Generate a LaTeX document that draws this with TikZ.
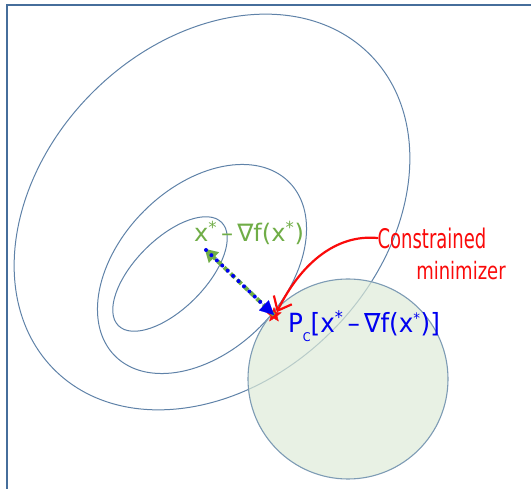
\documentclass[tikz,border=0pt]{standalone}
\usepackage{fontspec}
\setmainfont{DejaVu Sans}
\newfontfamily\condfont{DejaVu Sans Condensed}
\usetikzlibrary{arrows.meta,shapes.geometric,calc}
\definecolor{framecol}{RGB}{70,110,155}
\definecolor{ellcol}{RGB}{95,130,168}
\definecolor{circcol}{RGB}{125,155,180}
\definecolor{circfill}{RGB}{222,235,216}
\definecolor{gcol}{RGB}{112,173,71}
\definecolor{bcol}{RGB}{0,0,240}
\definecolor{rcol}{RGB}{250,10,10}
\tikzset{
  contour/.style={draw=ellcol, line width=1pt},
  lbl/.style={inner sep=0pt, anchor=center},
}
\newcommand{\bigstar}{\textsuperscript{\Large *}}
\begin{document}
\begin{tikzpicture}[x=1pt,y=-1pt]
\useasboundingbox (0,0) rectangle (531,489);
% frame
\draw[framecol, line width=1.2pt] (531,5) -- (7,5) -- (7,489);
% contours
\draw[contour, rotate around={45:(212,212)}] (212,212) ellipse [x radius=223pt, y radius=169pt];
\draw[contour, rotate around={45:(202,269)}] (202,269) ellipse [x radius=123pt, y radius=82pt];
\draw[contour, rotate around={45:(170,274)}] (170,274) ellipse [x radius=73pt, y radius=35pt];
% constraint set
\fill[circfill, fill opacity=0.7] (348,379) circle [radius=100pt];
\draw[circcol, line width=1.1pt] (348,379) circle [radius=100pt];
% points
\coordinate (gtip) at (206,250);
\node[star, star points=5, star point ratio=2.3, fill=rcol, draw=rcol, minimum size=15pt, inner sep=0pt] (star) at (274,315) {};
% gradient step arrows
\draw[gcol, line width=4pt, dash pattern=on 6pt off 3pt, -{Triangle[length=13pt,width=14pt]}, shorten >=-2pt] (star.center) -- (gtip);
\draw[bcol, line width=4pt, line cap=round, dash pattern=on 0pt off 7.5pt, shorten >=12pt] (gtip) -- (star.center);
\draw[bcol, line width=0.1pt, -{Triangle[length=14pt,width=14pt]}] ($(gtip)!0.8!(star.center)$) -- (star.center);
% labels
\node[lbl, text=gcol, font=\fontsize{21}{21}\selectfont] (glabel) at (249,233) {\scalebox{1.15}[1.15]{x\bigstar\,–\,∇f(x\bigstar)}};
\node[lbl, text=bcol, font=\fontsize{22}{22}\selectfont] (blabel) at (364,326) {\scalebox{1.12}[1.2]{P\raisebox{-0.35em}{\normalsize C}[x\bigstar\,–\,∇f(x\textsuperscript{\large *})]}};
\node[lbl, text=rcol, font=\condfont\fontsize{20}{20}\selectfont] (cons) at (432,238) {\scalebox{1}[1.35]{Constrained}};
\node[lbl, text=rcol, font=\condfont\fontsize{20}{20}\selectfont] (mini) at (461,271) {\scalebox{1}[1.2]{minimizer}};
% red pointer
\draw[rcol, line width=2.2pt, line cap=round, -{Straight Barb[length=12pt,width=20pt,line width=2.2pt]}]
  (cons.west) .. controls (335,234) and (300,265) .. (star.north east);
\end{tikzpicture}
\end{document}
